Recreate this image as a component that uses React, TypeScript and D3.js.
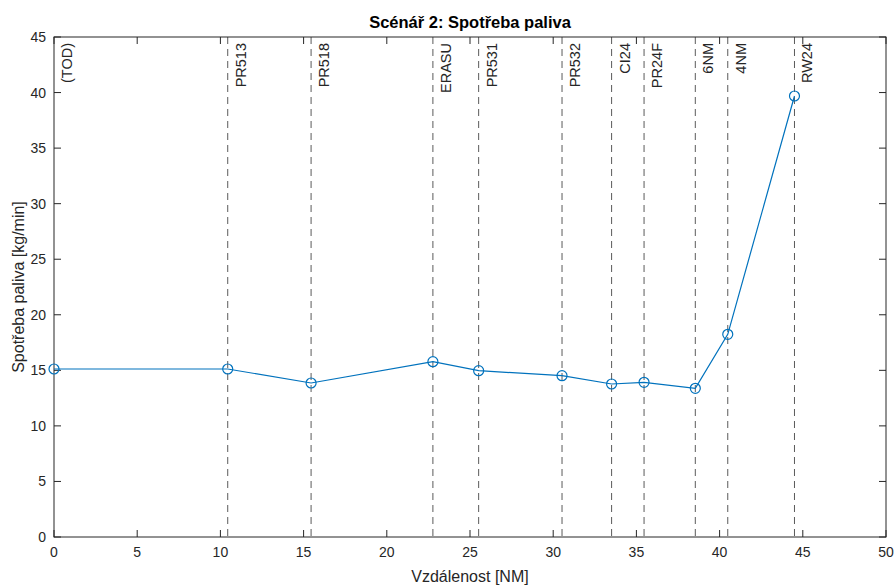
import React from 'react';
import { scaleLinear, line } from 'd3';

// waypoints along the approach
const waypoints = ['(TOD)', 'PR513', 'PR518', 'ERASU', 'PR531', 'PR532', 'CI24', 'PR24F', '6NM', '4NM', 'RW24'];
const distance = [0, 10.44, 15.45, 22.77, 25.52, 30.53, 33.51, 35.46, 38.54, 40.49, 44.5];
const fuelFlow = [15.12, 15.12, 13.86, 15.78, 14.97, 14.52, 13.77, 13.92, 13.38, 18.24, 39.69];

const xTicks = [0, 5, 10, 15, 20, 25, 30, 35, 40, 45, 50];
const yTicks = [0, 5, 10, 15, 20, 25, 30, 35, 40, 45];

const W = 896;
const H = 586;
const m = { left: 54, right: 10, top: 37, bottom: 49 };

const App = () => {
  const x = scaleLinear().domain([0, 50]).range([m.left, W - m.right]);
  const y = scaleLinear().domain([0, 45]).range([H - m.bottom, m.top]);

  const path = line<number>()
    .x((d, i) => x(distance[i]))
    .y(d => y(d))(fuelFlow);

  const axisColor = '#262626';
  const font = 'Liberation Sans, Arial, sans-serif';
  const tick = 7;

  return (
    <React.Fragment>
      <style>{'body{margin:0}'}</style>
      <svg width={W} height={H} style={{ display: 'block', background: '#fff' }} fontFamily={font}>
        {/* waypoint markers */}
        {distance.map((d, i) => (
          <g key={waypoints[i]}>
            {i > 0 && (
              <line x1={x(d)} x2={x(d)} y1={y(45)} y2={y(0)}
                stroke="#5a5a5a" strokeWidth={1} strokeDasharray="7,5" />
            )}
            <text
              transform={`translate(${x(d) + 13},${y(45) + 6}) rotate(-90)`}
              textAnchor="end" dominantBaseline="central" fontSize={14.5} fill="#262626">
              {waypoints[i]}
            </text>
          </g>
        ))}

        {/* box */}
        <rect x={x(0)} y={y(45)} width={x(50) - x(0)} height={y(0) - y(45)}
          fill="none" stroke={axisColor} strokeWidth={1} />

        {/* x ticks */}
        {xTicks.map(t => (
          <g key={'x' + t}>
            <line x1={x(t)} x2={x(t)} y1={y(0)} y2={y(0) - tick} stroke={axisColor} />
            <line x1={x(t)} x2={x(t)} y1={y(45)} y2={y(45) + tick} stroke={axisColor} />
            <text x={x(t)} y={y(0) + 20} textAnchor="middle" fontSize={14} fill={axisColor}>{t}</text>
          </g>
        ))}

        {/* y ticks */}
        {yTicks.map(t => (
          <g key={'y' + t}>
            <line x1={x(0)} x2={x(0) + tick} y1={y(t)} y2={y(t)} stroke={axisColor} />
            <line x1={x(50)} x2={x(50) - tick} y1={y(t)} y2={y(t)} stroke={axisColor} />
            <text x={x(0) - 8} y={y(t)} textAnchor="end" dominantBaseline="central" fontSize={14} fill={axisColor}>{t}</text>
          </g>
        ))}

        {/* series */}
        <path d={path ?? ''} fill="none" stroke="#0072BD" strokeWidth={1.2} />
        {fuelFlow.map((v, i) => (
          <circle key={i} cx={x(distance[i])} cy={y(v)} r={5} fill="none" stroke="#0072BD" strokeWidth={1.2} />
        ))}

        {/* labels */}
        <text x={(x(0) + x(50)) / 2} y={28} textAnchor="middle" fontSize={16.5} fontWeight="bold" fill="#000">
          Scénář 2: Spotřeba paliva
        </text>
        <text x={(x(0) + x(50)) / 2} y={582} textAnchor="middle" fontSize={16} fill={axisColor}>
          Vzdálenost [NM]
        </text>
        <text transform={`translate(18,${(y(0) + y(45)) / 2}) rotate(-90)`} textAnchor="middle"
          dominantBaseline="central" fontSize={16} fill={axisColor}>
          Spotřeba paliva [kg/min]
        </text>
      </svg>
    </React.Fragment>
  );
};

export default App;
